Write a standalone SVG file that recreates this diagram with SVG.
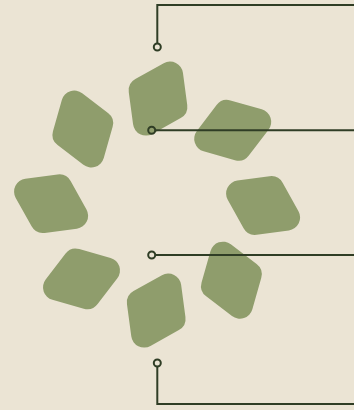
<svg xmlns="http://www.w3.org/2000/svg" xmlns:xlink="http://www.w3.org/1999/xlink" width="354" height="410" viewBox="0 0 354 410">
  <style>
    .petal { fill: #8f9d6c; }
    .line { fill: none; stroke: #2f3d25; stroke-width: 2; stroke-linejoin: miter; }
    .dot { fill: none; stroke: #2f3d25; stroke-width: 2; }
  </style>
  <defs>
    <path id="petal" d="M -25.77,-24.93 L 6.43,-29.23 A 13 13 0 0 1 19.52,-22.67 L 35.38,5.73 A 13 13 0 0 1 25.77,24.93 L -6.43,29.23 A 13 13 0 0 1 -19.52,22.67 L -35.38,-5.73 A 13 13 0 0 1 -25.77,-24.93 Z"/>
  </defs>
  <rect x="0" y="0" width="354" height="410" fill="#ebe4d4"/>
  <g id="petals">
    <g id="petal-right"><use xlink:href="#petal" class="petal" transform="translate(263.1,205.5)"/></g>
    <g id="petal-lower-right"><use xlink:href="#petal" class="petal" transform="translate(231.4,280.2) rotate(45)"/></g>
    <g id="petal-bottom"><use xlink:href="#petal" class="petal" transform="translate(156.2,310.6) rotate(90)"/></g>
    <g id="petal-lower-left"><use xlink:href="#petal" class="petal" transform="translate(81.5,278.9) rotate(135)"/></g>
    <g id="petal-left"><use xlink:href="#petal" class="petal" transform="translate(51.1,203.7) rotate(180)"/></g>
    <g id="petal-upper-left"><use xlink:href="#petal" class="petal" transform="translate(82.8,129.0) rotate(225)"/></g>
    <g id="petal-top"><use xlink:href="#petal" class="petal" transform="translate(158.0,98.6) rotate(270)"/></g>
    <g id="petal-upper-right"><use xlink:href="#petal" class="petal" transform="translate(232.7,130.3) rotate(315)"/></g>
  </g>
  <g id="connectors">
    <polyline class="line" points="157.3,43.5 157.3,5 354,5"/>
    <circle class="dot" cx="157.3" cy="47" r="3.5"/>
    <line class="line" x1="155.2" y1="130.3" x2="354" y2="130.3"/>
    <circle class="dot" cx="151.7" cy="130.3" r="3.5"/>
    <line class="line" x1="155.2" y1="255" x2="354" y2="255"/>
    <circle class="dot" cx="151.7" cy="255" r="3.5"/>
    <polyline class="line" points="157.3,366.5 157.3,404 354,404"/>
    <circle class="dot" cx="157.3" cy="363" r="3.5"/>
  </g>
</svg>
